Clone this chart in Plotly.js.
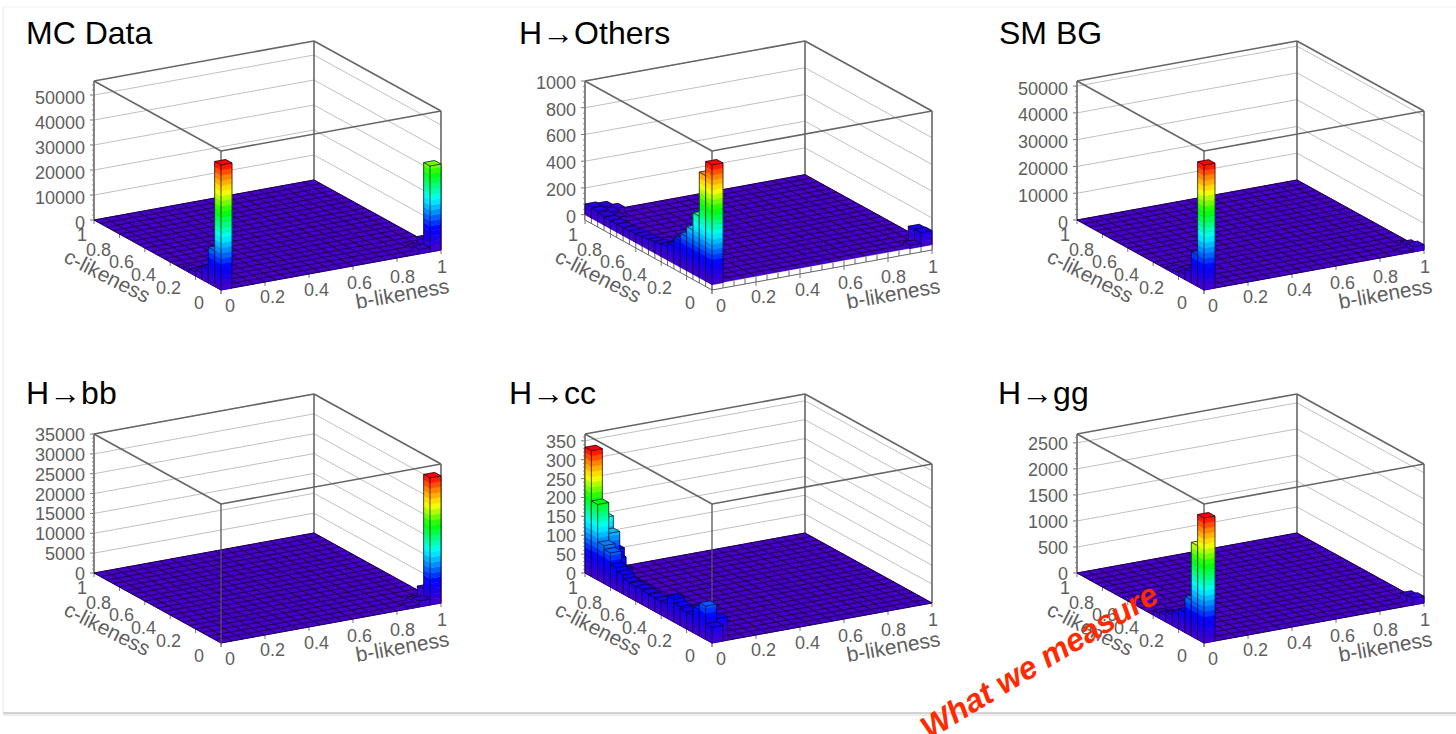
<!DOCTYPE html>
<html><head><meta charset="utf-8">
<script src="https://cdn.plot.ly/plotly-3.0.1.min.js"></script>
<style>html,body{margin:0;padding:0;background:#fff;overflow:hidden}#chart{width:1456px;height:734px}</style>
</head><body><div id="chart"></div>
<script>
// [b bin, c bin, entries] for the non-empty bins of the 20 x 20 histograms
const mcData=[[0,0,50000],[0,1,14300],[0,2,5600],[0,3,2600],[0,4,1500],[0,5,900],[19,0,34400],[19,1,3400],[18,0,1800],[18,1,900]];
const hOthers=[[0,0,895],[0,1,790],[0,2,460],[0,3,330],[0,4,255],[0,5,195],[0,6,130],[0,7,100],[0,8,90],[0,9,80],[0,10,75],[0,11,70],[0,12,65],[0,13,60],[0,14,60],[0,15,60],[0,16,60],[0,17,65],[0,18,75],[0,19,80],[1,19,70],[1,18,55],[1,17,40],[2,19,40],[19,0,105],[19,1,100],[18,0,25]];
const smBg=[[0,0,46600],[0,1,11700],[0,2,4000],[0,3,2000],[0,4,1200],[0,5,800],[19,0,2000],[19,1,1200],[18,0,600]];
const hBb=[[19,0,32000],[19,1,3000],[18,0,1500],[18,1,700],[17,0,500]];
const hCc=[[0,19,333],[0,18,200],[1,19,150],[1,18,118],[2,19,60],[0,17,100],[1,17,60],[0,16,90],[1,16,40],[0,15,60],[0,14,50],[0,13,40],[0,12,38],[0,11,40],[0,10,38],[0,9,36],[0,8,36],[0,7,38],[0,6,60],[0,5,50],[0,4,45],[0,3,45],[0,2,70],[0,1,88],[0,0,42],[1,1,50],[1,2,40],[1,6,25]];
const hGg=[[0,0,2400],[0,1,1800],[0,2,690],[0,3,390],[0,4,280],[0,5,200],[0,6,130],[0,7,90],[19,0,130],[19,1,100]];

const panelTitles=['MC Data','H→Others','SM BG','H→bb','H→cc','H→gg'];
const panelValues=[mcData,hOthers,smBg,hBb,hCc,hGg];
const zRanges=[[0,55600],[-40,1000],[0,51900],[0,35000],[0,368],[0,2670]];
const zTicks=[[0,10000,20000,30000,40000,50000],[0,200,400,600,800,1000],[0,10000,20000,30000,40000,50000],[0,5000,10000,15000,20000,25000,30000,35000],[0,50,100,150,200,250,300,350],[0,500,1000,1500,2000,2500]];
const unitTicks=[0,0.2,0.4,0.6,0.8,1];
const unitLabels=['0','0.2','0.4','0.6','0.8','1'];
const titleX=[24,517,997,24,507,996];
const titleY=[33,33,33,393,393,393];
const frontX=[221,712,1204,221,712,1204];
const frontY=[290,290,290,643,643,643];
const zLabelShift=[-2.5,-2,-2.5,-1,-1,-1];

const W=1456,H=734,N=20,LEVELS=24;
const stops=[[0,[72,0,200]],[0.18,[0,0,255]],[0.42,[0,255,255]],[0.62,[0,255,0]],[0.78,[255,255,0]],[0.9,[255,128,0]],[1,[255,0,0]]];
function palette(f){
  for(let i=1;i<stops.length;i++){
    if(f<=stops[i][0]){
      const t=(f-stops[i-1][0])/(stops[i][0]-stops[i-1][0]);
      const a=stops[i-1][1],b=stops[i][1];
      return 'rgb('+a.map((v,k)=>Math.round(v+(b[k]-v)*t)).join(',')+')';
    }
  }
  return 'rgb(255,0,0)';
}
const font={family:'Liberation Sans, Arial, sans-serif'};
const traces=[];
const layout={width:W,height:H,margin:{l:0,r:0,t:0,b:0},paper_bgcolor:'#fff',plot_bgcolor:'rgba(0,0,0,0)',showlegend:false,hovermode:false,annotations:[],shapes:[
 {type:'line',xref:'paper',yref:'paper',x0:3/W,x1:1,y0:1-713/H,y1:1-713/H,line:{color:'#c4c4c4',width:1.5}},
 {type:'line',xref:'paper',yref:'paper',x0:3/W,x1:1,y0:1-715/H,y1:1-715/H,line:{color:'#ececec',width:2}},
 {type:'line',xref:'paper',yref:'paper',x0:3/W,x1:3/W,y0:1-713/H,y1:1-7/H,line:{color:'#ececec',width:1.5}},
 {type:'line',xref:'paper',yref:'paper',x0:3/W,x1:1,y0:1-7/H,y1:1-7/H,line:{color:'#f2f2f2',width:1}}
]};

panelValues.forEach((vals,p)=>{
  const sfx=p?String(p+1):'';
  const xa='x'+sfx, ya='y'+sfx;
  const [z0,z1]=zRanges[p];
  const peak=Math.max(...vals.map(v=>v[2]));
  const pr=(b,c,z)=>[220*b-127*c,40*b+70*c+139*(z-z0)/(z1-z0)];
  const poly=(pts,o)=>{o.x.push(...pts.map(q=>q[0]),pts[0][0],null);o.y.push(...pts.map(q=>q[1]),pts[0][1],null);};
  const seg=(a,b,o)=>{o.x.push(a[0],b[0],null);o.y.push(a[1],b[1],null);};
  const lines=(o,color,width)=>traces.push({type:'scatter',mode:'lines',xaxis:xa,yaxis:ya,x:o.x,y:o.y,line:{color,width},hoverinfo:'skip',cliponaxis:false});
  const filled=(o,color)=>traces.push({type:'scatter',mode:'lines',xaxis:xa,yaxis:ya,x:o.x,y:o.y,fill:'toself',fillcolor:color,line:{color,width:0.5},hoverinfo:'skip',cliponaxis:false});

  // back walls, grid lines and box outline
  const grid={x:[],y:[]};
  zTicks[p].forEach(t=>{seg(pr(0,1,t),pr(1,1,t),grid);seg(pr(1,1,t),pr(1,0,t),grid);});
  lines(grid,'#c0c0c0',1);
  const box={x:[],y:[]};
  [[[0,1,z1],[1,1,z1]],[[1,1,z1],[1,0,z1]],[[1,0,z1],[0,0,z1]],[[0,0,z1],[0,1,z1]],[[0,1,z0],[0,1,z1]],[[1,1,z0],[1,1,z1]],[[1,0,z0],[1,0,z1]]].forEach(e=>seg(pr(...e[0]),pr(...e[1]),box));
  lines(box,'#666',1.6);

  // axis tick marks
  const major={x:[],y:[]},minor={x:[],y:[]};
  const zStep=zTicks[p][1]-zTicks[p][0];
  zTicks[p].forEach(t=>{const q=pr(0,1,t);seg(q,[q[0]-4,q[1]],major);
    for(let m=1;m<5;m++){const zm=t+m*zStep/5;if(zm<=z1){const r=pr(0,1,zm);seg(r,[r[0]-2,r[1]],minor);}}});
  unitTicks.forEach(t=>{let q=pr(t,0,z0);seg(q,[q[0],q[1]-4],major);q=pr(0,t,z0);seg(q,[q[0],q[1]-4],major);});
  lines(major,'#777',1);lines(minor,'#777',0.8);

  // floor
  const floor={x:[],y:[]};poly([pr(0,0,0),pr(1,0,0),pr(1,1,0),pr(0,1,0)],floor);
  filled(floor,palette(0));
  const fg={x:[],y:[]};
  for(let i=0;i<=N;i++){seg(pr(i/N,0,0),pr(i/N,1,0),fg);seg(pr(0,i/N,0),pr(1,i/N,0),fg);}
  lines(fg,'#1a0050',1);

  // white lip of the axis part below zero
  if(z0<0){
    const lip={x:[],y:[]};poly([pr(0,0,z0),pr(1,0,z0),pr(1,0,0),pr(0,0,0)],lip);poly([pr(0,0,z0),pr(0,1,z0),pr(0,1,0),pr(0,0,0)],lip);
    filled(lip,'#ffffff');
    const st={x:[],y:[]};
    for(let i=0;i<=N;i++){seg(pr(i/N,0,z0),pr(i/N,0,0),st);seg(pr(0,i/N,z0),pr(0,i/N,0),st);}
    seg(pr(0,0,z0),pr(1,0,z0),st);seg(pr(0,0,z0),pr(0,1,z0),st);
    lines(st,'#555',0.9);
  }
  // front box edge goes behind the bars
  const fe={x:[],y:[]};seg(pr(0,0,Math.max(z0,0)),pr(0,0,z1),fe);lines(fe,'#555',1.3);

  // bars, back to front
  [...vals].sort((u,v)=>(v[0]+v[1])-(u[0]+u[1])).forEach(([i,j,v])=>{
    const a=i/N,b=(i+1)/N,c=j/N,d=(j+1)/N;
    for(let k=0;k<LEVELS;k++){
      const lo=k*peak/LEVELS;
      if(lo>=v)break;
      const hi=Math.min((k+1)*peak/LEVELS,v);
      const o={x:[],y:[]};
      poly([pr(a,c,lo),pr(b,c,lo),pr(b,c,hi),pr(a,c,hi)],o);
      poly([pr(a,c,lo),pr(a,d,lo),pr(a,d,hi),pr(a,c,hi)],o);
      filled(o,palette((k+0.5)/LEVELS));
    }
    const top={x:[],y:[]};poly([pr(a,c,v),pr(b,c,v),pr(b,d,v),pr(a,d,v)],top);
    filled(top,palette(v/peak));
    const e={x:[],y:[]};
    poly([pr(a,c,v),pr(b,c,v),pr(b,d,v),pr(a,d,v)],e);
    seg(pr(a,c,0),pr(a,c,v),e);seg(pr(b,c,0),pr(b,c,v),e);seg(pr(a,d,0),pr(a,d,v),e);
    lines(e,'#0c0020',0.7);
  });

  const axis=(k,r,dom,anc)=>{layout[k]={visible:false,range:r,domain:dom,anchor:anc,fixedrange:true};};
  axis('xaxis'+sfx,[-160,250],[(frontX[p]-160)/W,(frontX[p]+250)/W],ya);
  axis('yaxis'+sfx,[-75,265],[1-(frontY[p]+75)/H,1-(frontY[p]-265)/H],xa);

  const tickFont={...font,size:18,color:'#606060'};
  const titleFont={...font,size:21,color:'#606060'};
  const ann=(q,text,dx,dy,f,extra)=>layout.annotations.push(Object.assign({xref:xa,yref:ya,x:q[0],y:q[1],xshift:dx,yshift:dy,xanchor:'center',yanchor:'middle',showarrow:false,text,font:f},extra||{}));
  unitTicks.forEach((t,i)=>{
    ann(pr(t,0,z0),unitLabels[i],[9,7,7,6,5,1][i],[-16,-15,-16,-17,-19,-17][i],tickFont);
    ann(pr(0,t,z0),unitLabels[i],[-22,-27,-27,-23,-21,-12][i],[-13,-12,-13,-14,-16,-15][i],tickFont);
  });
  zTicks[p].forEach(t=>ann(pr(0,1,t),String(t),-7,zLabelShift[p],tickFont,{xanchor:'right'}));
  ann(pr(1,0,z0),'b-likeness',-39,-43,titleFont,{textangle:-10});
  ann(pr(0,1,z0),'c-likeness',13,-55,titleFont,{textangle:27});
});
panelTitles.forEach((t,p)=>layout.annotations.push({xref:'paper',yref:'paper',x:titleX[p]/W,y:1-titleY[p]/H,xanchor:'left',yanchor:'middle',showarrow:false,text:t,font:{...font,size:32,color:'#000'}}));
layout.annotations.push({xref:'paper',yref:'paper',x:1039/W,y:1-661/H,xanchor:'center',yanchor:'middle',showarrow:false,text:'<b><i>What we measure</i></b>',textangle:-31,font:{...font,size:32,color:'#ff2a00'}});
Plotly.newPlot('chart',traces,layout,{displayModeBar:false,staticPlot:true});
</script></body></html>
